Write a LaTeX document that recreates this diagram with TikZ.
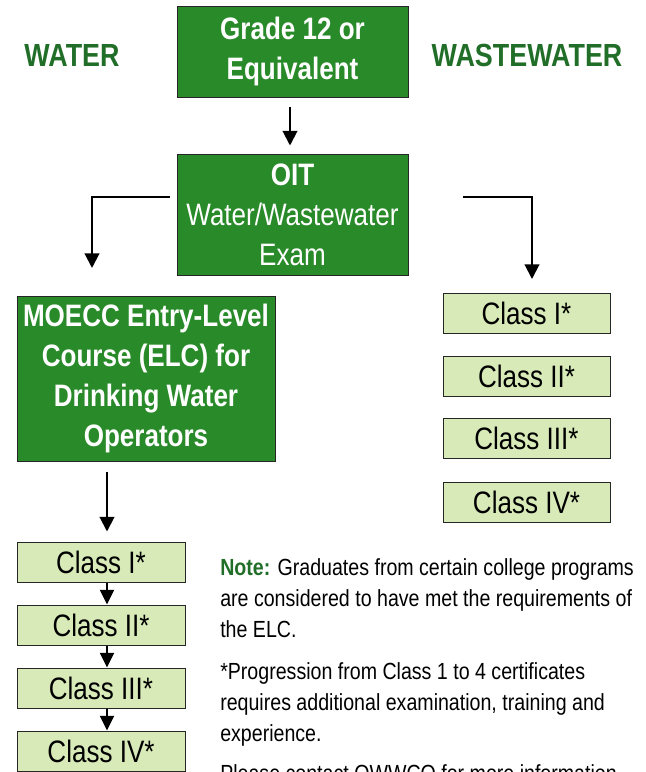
\documentclass[tikz,border=0pt]{standalone}
\usepackage{fontspec}
\setmainfont{Liberation Sans}[FakeStretch=0.84]
\usetikzlibrary{arrows.meta}
\definecolor{boxgreen}{RGB}{41,138,41}
\definecolor{classgreen}{RGB}{215,234,184}
\definecolor{titlegreen}{RGB}{33,110,40}
\newcommand{\boxfont}{\fontsize{23.25}{30}\selectfont}
\newcommand{\notefont}{\fontsize{17.5}{22.9}\selectfont}

\begin{document}
\begin{tikzpicture}[x=0.75pt,y=0.75pt,yscale=-1,xscale=1,
  bigbox/.style={draw=black!85, line width=0.75pt, fill=boxgreen, text=white, font=\boxfont, align=center, inner sep=0pt},
  classbox/.style={draw=black!85, line width=0.75pt, fill=classgreen, font=\boxfont, inner sep=0pt, minimum height=30pt},
  flow/.style={-{Triangle[width=11pt,length=11pt]}, line width=1.5pt},
  stepflow/.style={-{Triangle[width=10.5pt,length=11pt]}, line width=1.5pt},
  notetext/.style={font=\notefont, align=left, inner sep=0pt, anchor=base west}
]
    \useasboundingbox (0,0) rectangle (646,772);
    \clip (0,0) rectangle (646,772);

    % Headings
    \node[font=\fontsize{24}{30}\selectfont\bfseries, text=titlegreen] (water) at (72,55) {WATER};
    \node[font=\fontsize{24}{30}\selectfont\bfseries, text=titlegreen] (wastewater) at (527,55) {WASTEWATER};

    %Shape: Rectangle [Grade 12]
    \node[bigbox, minimum width=173.25pt, minimum height=68.25pt, font=\boxfont\bfseries] (grade) at (292.5,51.5) {Grade 12 or\\Equivalent};
    %Shape: Rectangle [OIT]
    \node[bigbox, minimum width=173.25pt, minimum height=90.75pt] (oit) at (292.5,214.5) {\textbf{OIT}\\Water/Wastewater\\Exam};
    %Shape: Rectangle [ELC]
    \node[bigbox, minimum width=193.5pt, minimum height=123.75pt, font=\boxfont\bfseries] (elc) at (146,378.5) {MOECC Entry-Level\\Course (ELC) for\\Drinking Water\\Operators};

    % Wastewater classes
    \node[classbox, minimum width=125.25pt] (wc1) at (526.5,313.5) {Class I*};
    \node[classbox, minimum width=125.25pt] (wc2) at (526.5,376) {Class II*};
    \node[classbox, minimum width=125.25pt] (wc3) at (526.5,438.5) {Class III*};
    \node[classbox, minimum width=125.25pt] (wc4) at (526.5,502) {Class IV*};

    % Water classes
    \node[classbox, minimum width=126pt] (dc1) at (101,562) {Class I*};
    \node[classbox, minimum width=126pt] (dc2) at (101,625) {Class II*};
    \node[classbox, minimum width=126pt] (dc3) at (101,688) {Class III*};
    \node[classbox, minimum width=126pt] (dc4) at (101,751) {Class IV*};

    % Arrow ends
    \coordinate (lstart) at (170,197);
    \coordinate (ltip) at (92,268);
    \coordinate (rstart) at (463,197);
    \coordinate (rtip) at (532,279);

    %Straight Lines
    \draw[flow, shorten <=7pt, shorten >=6pt] (grade.south -| 290,0) -- (oit.north -| 290,0);
    \draw[flow] (lstart) -| (ltip);
    \draw[flow] (rstart) -| (rtip);
    \draw[flow, shorten <=7.5pt, shorten >=7.5pt] (elc.south -| 107,0) -- (dc1.north -| 107,0);
    \draw[stepflow] (dc1.south -| 107,0) -- (dc2.north -| 107,0);
    \draw[stepflow] (dc2.south -| 107,0) -- (dc3.north -| 107,0);
    \draw[stepflow] (dc3.south -| 107,0) -- (dc4.north -| 107,0);

    % Text Node
    \node[notetext] (note) at (220,637) {\textcolor{titlegreen}{\bfseries Note:} Graduates from certain college programs\\are considered to have met the requirements of\\the ELC.};
    % Text Node
    \node[notetext] (progress) at (220,741) {*Progression from Class 1 to 4 certificates\\requires additional examination, training and\\experience.};
    % Text Node
    \node[notetext] (contact) at (220,781) {Please contact OWWCO for more information.};
\end{tikzpicture}
\end{document}
